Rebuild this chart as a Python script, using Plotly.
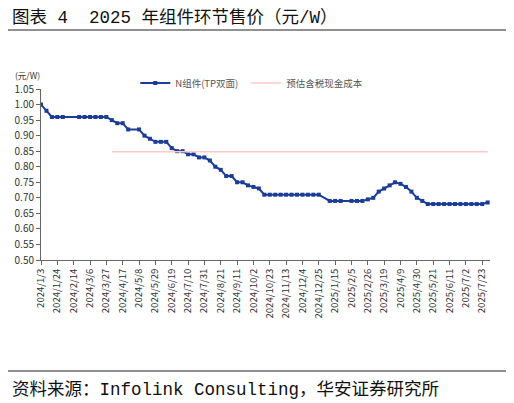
import pandas as pd
import plotly.graph_objects as go

# weekly quotes (holiday weeks are missing in the source)
dates = [
    "2024-01-03", "2024-01-10", "2024-01-17", "2024-01-24", "2024-01-31",
    "2024-02-21", "2024-02-28", "2024-03-06", "2024-03-13", "2024-03-20",
    "2024-03-27", "2024-04-03", "2024-04-10", "2024-04-17", "2024-04-24",
    "2024-05-08", "2024-05-15", "2024-05-22", "2024-05-29", "2024-06-05",
    "2024-06-12", "2024-06-19", "2024-06-26", "2024-07-03", "2024-07-10",
    "2024-07-17", "2024-07-24", "2024-07-31", "2024-08-07", "2024-08-14",
    "2024-08-21", "2024-08-28", "2024-09-04", "2024-09-11", "2024-09-18",
    "2024-09-25", "2024-10-02", "2024-10-09", "2024-10-16", "2024-10-23",
    "2024-10-30", "2024-11-06", "2024-11-13", "2024-11-20", "2024-11-27",
    "2024-12-04", "2024-12-11", "2024-12-18", "2024-12-25",
    "2025-01-08", "2025-01-15", "2025-01-22", "2025-02-05", "2025-02-12",
    "2025-02-19", "2025-02-26", "2025-03-05", "2025-03-12", "2025-03-19",
    "2025-03-26", "2025-04-02", "2025-04-09", "2025-04-16", "2025-04-23",
    "2025-04-30", "2025-05-07", "2025-05-14", "2025-05-21", "2025-05-28",
    "2025-06-04", "2025-06-11", "2025-06-18", "2025-06-25", "2025-07-02",
    "2025-07-09", "2025-07-16", "2025-07-23", "2025-07-30",
]
n_module_price = [
    1.00, 0.98, 0.96, 0.96, 0.96,
    0.96, 0.96, 0.96, 0.96, 0.96,
    0.96, 0.95, 0.94, 0.94, 0.92,
    0.92, 0.90, 0.89, 0.88, 0.88,
    0.88, 0.86, 0.85, 0.85, 0.84,
    0.84, 0.83, 0.83, 0.82, 0.80,
    0.79, 0.77, 0.77, 0.75, 0.75,
    0.74, 0.735, 0.73, 0.71, 0.71,
    0.71, 0.71, 0.71, 0.71, 0.71,
    0.71, 0.71, 0.71, 0.71,
    0.69, 0.69, 0.69, 0.69, 0.69,
    0.69, 0.695, 0.70, 0.72, 0.73,
    0.74, 0.75, 0.745, 0.735, 0.72,
    0.70, 0.69, 0.68, 0.68, 0.68,
    0.68, 0.68, 0.68, 0.68, 0.68,
    0.68, 0.68, 0.68, 0.685,
]

cost_dates = ["2024-04-03", "2025-07-30"]
cost_value = [0.848, 0.848]

tick_labels = [
    "2024/1/3", "2024/1/24", "2024/2/14", "2024/3/6", "2024/3/27", "2024/4/17",
    "2024/5/8", "2024/5/29", "2024/6/19", "2024/7/10", "2024/7/31", "2024/8/21",
    "2024/9/11", "2024/10/2", "2024/10/23", "2024/11/13", "2024/12/4", "2024/12/25",
    "2025/1/15", "2025/2/5", "2025/2/26", "2025/3/19", "2025/4/9", "2025/4/30",
    "2025/5/21", "2025/6/11", "2025/7/2", "2025/7/23",
]
y_ticks = [0.50, 0.55, 0.60, 0.65, 0.70, 0.75, 0.80, 0.85, 0.90, 0.95, 1.00, 1.05]

tick_vals = [pd.to_datetime(t, format="%Y/%m/%d") for t in tick_labels]

FONT = "Noto Sans CJK SC, Liberation Sans, sans-serif"
MONO = "Liberation Mono, Noto Sans CJK SC, monospace"
BLUE = "#1B3D99"
PINK = "#FFC9C9"

fig = go.Figure()
fig.add_trace(go.Scatter(
    x=pd.to_datetime(dates), y=n_module_price,
    mode="lines+markers", name="N组件(TP双面)",
    line=dict(color=BLUE, width=2),
    marker=dict(color=BLUE, size=4, symbol="square"),
    legend="legend",
))
fig.add_trace(go.Scatter(
    x=pd.to_datetime(cost_dates), y=cost_value,
    mode="lines", name="预估含税现金成本",
    line=dict(color=PINK, width=1.5),
    legend="legend2",
))

legend_common = dict(
    orientation="h", y=1.035, xanchor="left", yanchor="middle",
    font=dict(size=9.5, color="#555555"), itemwidth=30,
    bgcolor="rgba(0,0,0,0)",
)

# page body has an 8px margin, so the figure is 8px smaller than the window
fig.update_layout(
    width=506, height=395,
    margin=dict(l=33, r=24, t=81, b=143, autoexpand=False),
    plot_bgcolor="white", paper_bgcolor="white",
    font=dict(family=FONT, size=10, color="#333333"),
    showlegend=True,
    legend=dict(x=0.21, **legend_common),
    legend2=dict(x=0.457, **legend_common),
)
fig.update_xaxes(
    range=[pd.Timestamp("2024-01-03"), pd.Timestamp("2025-08-02")],
    tickvals=tick_vals, ticktext=tick_labels, tickangle=-90,
    ticks="outside", ticklen=4, tickcolor="#666666",
    showline=True, linecolor="#666666", linewidth=1,
    showgrid=False, zeroline=False,
    tickfont=dict(size=9.5, color="#333333"),
)
fig.update_yaxes(
    range=[0.50, 1.05], tickvals=y_ticks, tickformat=".2f",
    ticks="outside", ticklen=4, tickcolor="#666666",
    showline=True, linecolor="#666666", linewidth=1,
    showgrid=False, zeroline=False,
    tickfont=dict(size=10, color="#333333"),
)

# title, unit, source
fig.add_annotation(
    text="图表 4&nbsp;&nbsp;2025 年组件环节售价（元/W）", xref="paper", yref="paper",
    x=-0.068, y=1.418, xanchor="left", yanchor="middle", showarrow=False,
    font=dict(size=17.5, color="#111111", family=MONO),
)
fig.add_annotation(
    text="(元/W)", xref="paper", yref="paper",
    x=-0.063, y=1.083, xanchor="left", yanchor="middle", showarrow=False,
    font=dict(size=8.5, color="#333333", family=FONT),
)
fig.add_annotation(
    text="资料来源：Infolink Consulting，华安证券研究所", xref="paper", yref="paper",
    x=-0.068, y=-0.76, xanchor="left", yanchor="middle", showarrow=False,
    font=dict(size=17.5, color="#111111", family=MONO),
)
fig.add_shape(type="line", xref="paper", yref="paper",
              x0=-0.0735, x1=1.0445, y0=1.345, y1=1.345,
              line=dict(color="#222222", width=1.2))
fig.add_shape(type="line", xref="paper", yref="paper",
              x0=-0.0735, x1=1.0445, y0=-0.649, y1=-0.649,
              line=dict(color="#222222", width=1.2))

fig.write_html("out.html")
